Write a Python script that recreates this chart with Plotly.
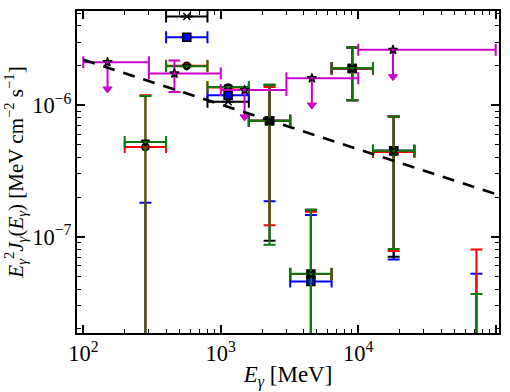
import plotly.graph_objects as go

# ---------------- data ----------------
# energy bins (MeV)
bin_lo = [200, 400, 800, 1600, 3200, 6400, 12800, 51200]
bin_hi = [400, 800, 1600, 3200, 6400, 12800, 25600, 102400]
bin_c = [283, 566, 1131, 2263, 4525, 9051, 18102, 72408]

# black "x" series (bins 2,3)
blk_x_idx = [1, 2]
blk_x_y = [4.71e-6, 1.06e-6]

# black square series (bins 4-7)
blk_s_idx = [3, 4, 5, 6]
blk_s_y = [7.6e-7, 5.2e-8, 1.90e-6, 4.5e-7]
blk_s_lo = [9.3e-8, 1e-9, 1.09e-6, 7.05e-8]
blk_s_hi = [1.43e-6, 1.60e-7, 2.74e-6, 8.2e-7]

# blue squares (all bins; some centres below the plotted range)
blu_y = [1e-8, 3.28e-6, 1.19e-6, 7.6e-7, 4.56e-8, 1.90e-6, 4.5e-7, 1e-8]
blu_lo = [1e-9, 3.28e-6, 1.19e-6, 1.86e-7, 1e-9, 1.09e-6, 6.7e-8, 1e-9]
blu_hi = [1.81e-7, 3.28e-6, 1.19e-6, 1.30e-6, 1.46e-7, 2.74e-6, 8.2e-7, 5.22e-8]

# red circles
red_y = [4.8e-7, 1.99e-6, 1.36e-6, 7.6e-7, 5.2e-8, 1.90e-6, 4.4e-7, 1e-8]
red_lo = [1e-9, 1.99e-6, 1.36e-6, 1.22e-7, 1e-9, 1.09e-6, 7.8e-8, 1e-9]
red_hi = [1.19e-6, 1.99e-6, 1.36e-6, 1.37e-6, 1.55e-7, 2.74e-6, 8.2e-7, 7.98e-8]

# green down-triangles
grn_y = [5.25e-7, 1.97e-6, 1.37e-6, 7.6e-7, 5.22e-8, 1.91e-6, 4.5e-7, 1e-8]
grn_lo = [1e-9, 1.97e-6, 1.37e-6, 8.7e-8, 1e-9, 1.09e-6, 8.07e-8, 1e-9]
grn_hi = [1.17e-6, 1.97e-6, 1.37e-6, 1.43e-6, 1.60e-7, 2.74e-6, 8.2e-7, 3.67e-8]

# magenta stars: upper limits
ul_E = [150, 1490, 4600, 17900]
ul_Elo = [100, 1000, 3000, 10000]
ul_Ehi = [300, 3000, 10000, 100000]
ul_y = [2.12e-6, 1.30e-6, 1.60e-6, 2.63e-6]

# magenta star: detection
det_E = [460]
det_Elo = [300]
det_Ehi = [1000]
det_y = [1.74e-6]
det_lo = [1.26e-6]
det_hi = [2.18e-6]

# dashed model line
mod_E = [100, 1e5]
mod_y = [2.21e-6, 2.11e-7]

# ---------------- styles ----------------
BLACK = "#000000"
BLUE = "#0000ff"
RED = "#ff0000"
GREEN = "#0a7a0a"
MAG = "#cc00cc"
UL_RATIO = 0.625
FONT = "Liberation Serif"

fig = go.Figure()


def add_series(E, Elo, Ehi, y, lo, hi, color, symbol, size, line_color="black", lw=1.5):
    fig.add_trace(go.Scatter(
        x=E, y=y, mode="markers",
        marker=dict(symbol=symbol, size=size, color=color,
                    line=dict(color=line_color, width=lw)),
        error_x=dict(type="data", symmetric=False,
                     array=[h - c for h, c in zip(Ehi, E)],
                     arrayminus=[c - l for l, c in zip(Elo, E)],
                     color=color, thickness=2, width=6),
        error_y=dict(type="data", symmetric=False,
                     array=[h - c for h, c in zip(hi, y)],
                     arrayminus=[c - l for l, c in zip(lo, y)],
                     color=color, thickness=2, width=6),
        showlegend=False, hoverinfo="skip"))


def pick(arr, idx):
    return [arr[i] for i in idx]


# black x
add_series(pick(bin_c, blk_x_idx), pick(bin_lo, blk_x_idx), pick(bin_hi, blk_x_idx),
           blk_x_y, blk_x_y, blk_x_y, BLACK, "x-thin", 7, BLACK)
# blue
add_series(bin_c, bin_lo, bin_hi, blu_y, blu_lo, blu_hi, BLUE, "square", 8)
# black squares
add_series(pick(bin_c, blk_s_idx), pick(bin_lo, blk_s_idx), pick(bin_hi, blk_s_idx),
           blk_s_y, blk_s_lo, blk_s_hi, BLACK, "square", 8)
# red
add_series(bin_c, bin_lo, bin_hi, red_y, red_lo, red_hi, RED, "circle", 7)
# green
add_series(bin_c, bin_lo, bin_hi, grn_y, grn_lo, grn_hi, GREEN, "triangle-down", 7)

# magenta detection
add_series(det_E, det_Elo, det_Ehi, det_y, det_lo, det_hi, MAG, "star", 7, lw=1.2)

# magenta upper limits
ul_end = [v * UL_RATIO for v in ul_y]
fig.add_trace(go.Scatter(
    x=ul_E, y=ul_y, mode="markers",
    marker=dict(symbol="star", size=7, color=MAG, line=dict(color="black", width=1.2)),
    error_x=dict(type="data", symmetric=False,
                 array=[h - c for h, c in zip(ul_Ehi, ul_E)],
                 arrayminus=[c - l for l, c in zip(ul_Elo, ul_E)],
                 color=MAG, thickness=2, width=6),
    error_y=dict(type="data", symmetric=False,
                 array=[0] * len(ul_y),
                 arrayminus=[v - e for v, e in zip(ul_y, ul_end)],
                 color=MAG, thickness=2, width=0),
    showlegend=False, hoverinfo="skip"))
fig.add_trace(go.Scatter(
    x=ul_E, y=ul_end, mode="markers",
    marker=dict(symbol="triangle-down", size=8, color=MAG, line=dict(color=MAG, width=1)),
    showlegend=False, hoverinfo="skip"))

# dashed model line
fig.add_trace(go.Scatter(
    x=mod_E, y=mod_y, mode="lines",
    line=dict(color="black", width=2.7, dash="12px,9px"),
    showlegend=False, hoverinfo="skip"))

axis_common = dict(
    type="log", showgrid=False, zeroline=False,
    showline=True, linecolor="black", linewidth=2, mirror="allticks",
    ticks="inside", ticklen=8, tickwidth=1.5, tickcolor="black",
    dtick=1, exponentformat="power",
    minor=dict(ticks="inside", ticklen=4, tickwidth=1.2, tickcolor="black", showgrid=False),
    tickfont=dict(family=FONT, size=18, color="black"),
)

fig.update_layout(
    width=510, height=392,
    margin=dict(l=77, r=10, t=9, b=51),
    paper_bgcolor="white", plot_bgcolor="white",
    font=dict(family=FONT, color="black"),
    xaxis=dict(**axis_common, range=[1.954, 5.024],
               title=dict(text="<i>E</i><sub><i>γ</i></sub> [MeV]",
                          font=dict(family=FONT, size=23), standoff=1)),
    yaxis=dict(**axis_common, range=[-7.732, -5.285],
               title=dict(text="<i>E</i><sub><i>γ</i></sub><sup>2</sup><i>J</i><sub><i>γ</i></sub>(<i>E</i><sub><i>γ</i></sub>) [MeV cm<sup>−2</sup> s<sup>−1</sup>]",
                          font=dict(family=FONT, size=21), standoff=3)),
)

fig.write_html("out.html")
